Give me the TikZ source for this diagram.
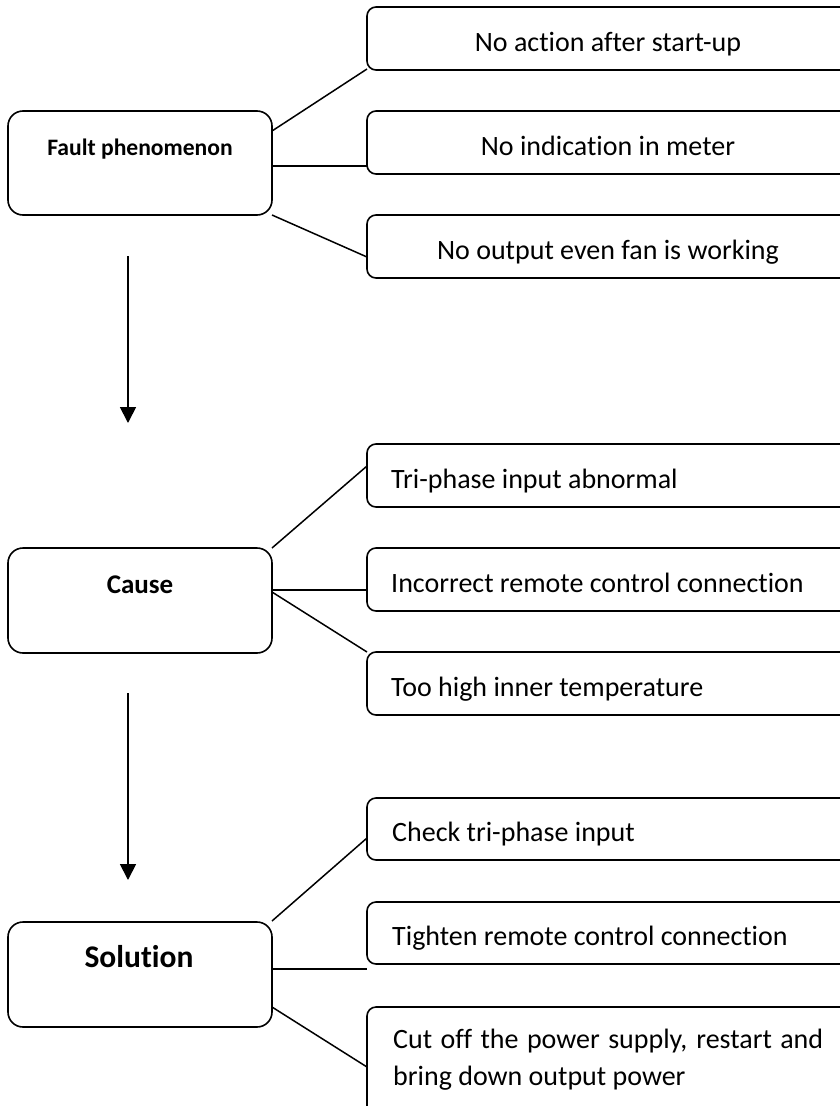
\documentclass[tikz,border=0pt]{standalone}
\usepackage{fontspec}
\setmainfont{Carlito}[Ligatures=NoCommon]
\usetikzlibrary{arrows.meta}
\begin{document}
\begin{tikzpicture}[x=1pt,y=-1pt,
  leftbox/.style={draw, line width=1.6pt, rounded corners=15pt, minimum width=264pt, minimum height=104pt, inner sep=0pt, outer sep=0pt},
  rightbox/.style={draw, line width=1.6pt, rounded corners=9pt, minimum width=483pt, minimum height=63pt, inner sep=0pt, outer sep=0pt},
  conn/.style={line width=1.5pt},
  flow/.style={line width=1.8pt, -{Triangle[length=16pt,width=16pt]}},
  txt/.style={font=\fontsize{28pt}{33pt}\selectfont, inner sep=0pt},
  head/.style={font=\bfseries\fontsize{#1}{#1}\selectfont, inner sep=0pt, anchor=base}]
\useasboundingbox (0,0) rectangle (840,1106);
\clip (0,0) rectangle (840,1106);

% Fault phenomenon
\node[leftbox] (fp) at (140,163) {};
\node[head=23.6pt] (fpt) at (140,155) {Fault phenomenon};
\node[rightbox] (r1) at (608.5,38.5) {};
\node[rightbox] (r2) at (608.5,142.5) {};
\node[rightbox] (r3) at (608.5,246.5) {};
\node[txt, anchor=base] (r1t) at (608,51) {No action after start-up};
\node[txt, anchor=base] (r2t) at (608,155) {No indication in meter};
\node[txt, anchor=base] (r3t) at (608,259) {No output even fan is working};
\draw[conn] ([yshift=-20pt]fp.north east) -- ([yshift=1pt]r1.south west);
\draw[conn] ([yshift=-55pt]fp.north east) -- ([yshift=8pt]r2.south west);
\draw[conn] (fp.south east) -- ([yshift=-42pt]r3.north west);

% arrow 1
\coordinate (a1s) at (128,256);
\coordinate (a1e) at (128,423);
\draw[flow] (a1s) -- (a1e);

% Cause
\node[leftbox, minimum height=105pt] (c) at (140,600.5) {};
\node[head=27pt] (ct) at (140,593) {Cause};
\node[rightbox] (c1) at (608.5,475.5) {};
\node[rightbox] (c2) at (608.5,579.5) {};
\node[rightbox] (c3) at (608.5,683.5) {};
\node[txt, anchor=base west] (c1t) at (391,488) {Tri-phase input abnormal};
\node[txt, anchor=base west] (c2t) at (391,592) {Incorrect remote control connection};
\node[txt, anchor=base west] (c3t) at (391,696) {Too high inner temperature};
\draw[conn] (c.north east) -- ([yshift=-22pt]c1.north west);
\draw[conn] ([yshift=-42pt]c.north east) -- ([yshift=-42pt]c2.north west);
\draw[conn] ([yshift=-44pt]c.north east) -- (c3.north west);

% arrow 2
\coordinate (a2s) at (128,693);
\coordinate (a2e) at (128,880);
\draw[flow] (a2s) -- (a2e);

% Solution
\node[leftbox, minimum height=105pt] (s) at (140,974.5) {};
\node[head=31.5pt] (st) at (139,967) {Solution};
\node[rightbox, minimum height=62pt] (s1) at (608.5,829) {};
\node[rightbox, minimum height=62pt] (s2) at (608.5,933) {};
\node[rightbox, minimum height=120pt] (s3) at (608.5,1067) {};
\node[txt, anchor=base west] (s1t) at (392,841) {Check tri-phase input};
\node[txt, anchor=base west] (s2t) at (392,945) {Tighten remote control connection};
\node[txt, anchor=base west] (s3t) at (393,1048) {\makebox[430pt][s]{Cut off the power supply, restart and}};
\node[txt, anchor=base west] (s3u) at (393,1085) {bring down output power};
\draw[conn] ([yshift=1pt]s.north east) -- ([yshift=-40pt]s1.north west);
\draw[conn] ([yshift=-47pt]s.north east) -- ([yshift=-5pt]s2.south west);
\draw[conn] ([yshift=-85pt]s.north east) -- ([yshift=-60pt]s3.north west);
\end{tikzpicture}
\end{document}
